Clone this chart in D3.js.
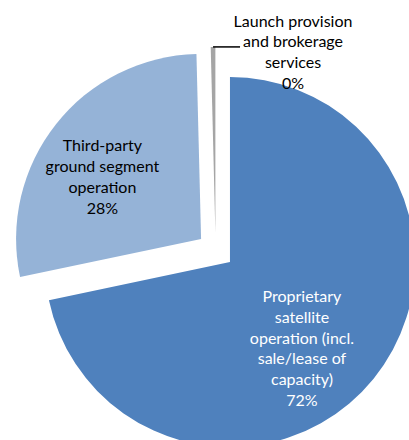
<!DOCTYPE html>
<html>
<head>
<meta charset="utf-8">
<script src="https://cdn.jsdelivr.net/npm/d3@7/dist/d3.min.js"></script>
<style>
  html, body { margin: 0; padding: 0; background: #ffffff; }
  svg { display: block; }
  text { font-family: Lato, "Noto Sans", sans-serif; }
</style>
</head>
<body>
<svg id="chart" width="409" height="440"></svg>
<script>
// Revenue split by activity
const categories = [
  "Proprietary satellite operation (incl. sale/lease of capacity)",
  "Third-party ground segment operation",
  "Launch provision and brokerage services"
];
const shares = [71.7, 27.9, 0.4];
const labelLines = [
  ["Proprietary", "satellite", "operation (incl.", "sale/lease of", "capacity)"],
  ["Third-party", "ground segment", "operation"],
  ["Launch provision", "and brokerage", "services"]
];
const sliceColors = ["#4F81BD", "#95B3D7", "#A5A5A5"];
const labelColors = ["#ffffff", "#000000", "#000000"];

const width = 409, height = 440;
const cx = 215.6, cy = 250.4;
const radius = 185;
const explode = 18.5;
const fontSize = 16;
const lineGap = 20.8;

const svg = d3.select("#chart");
svg.append("rect").attr("width", width).attr("height", height).attr("fill", "#ffffff");

const total = d3.sum(shares);
const pie = d3.pie().sort(null).value(d => d)(shares);
const arc = d3.arc().innerRadius(0).outerRadius(radius);

const g = svg.append("g").attr("transform", `translate(${cx},${cy})`);

function offset(d, dist) {
  const a = (d.startAngle + d.endAngle) / 2;
  return [Math.sin(a) * dist, -Math.cos(a) * dist];
}

// exploded slices
g.selectAll("path.slice")
  .data(pie)
  .join("path")
  .attr("class", "slice")
  .attr("d", arc)
  .attr("fill", (d, i) => sliceColors[i])
  .attr("transform", d => {
    const [dx, dy] = offset(d, explode);
    return `translate(${dx},${dy})`;
  });

// label placement relative to each exploded slice's centre
const labelAnchor = [
  { dx: 72, dy: 40, anchor: "middle" },    // first baseline offset
  { dx: -98.7, dy: -87.6, anchor: "middle" },
  null
];

const pctText = v => Math.round(v / total * 100) + "%";

pie.forEach((d, i) => {
  const [ox, oy] = offset(d, explode);
  let x, y0;
  if (labelAnchor[i]) {
    x = ox + labelAnchor[i].dx;
    y0 = oy + labelAnchor[i].dy;
  } else {
    // outside label with a leader line from the slice tip
    const [tx, ty] = offset(d, explode + radius);
    const lineEnd = tx + 27;
    g.append("line")
      .attr("x1", tx).attr("y1", ty)
      .attr("x2", lineEnd).attr("y2", ty)
      .attr("stroke", "#000").attr("stroke-width", 1.5);
    x = lineEnd + 53;
    y0 = ty - 20.3;
  }
  const lines = labelLines[i].concat([pctText(shares[i])]);
  const t = g.append("text")
    .attr("text-anchor", "middle")
    .attr("fill", labelColors[i])
    .attr("font-size", fontSize);
  lines.forEach((ln, k) => {
    t.append("tspan").attr("x", x).attr("y", y0 + k * lineGap).text(ln);
  });
});
</script>
</body>
</html>
